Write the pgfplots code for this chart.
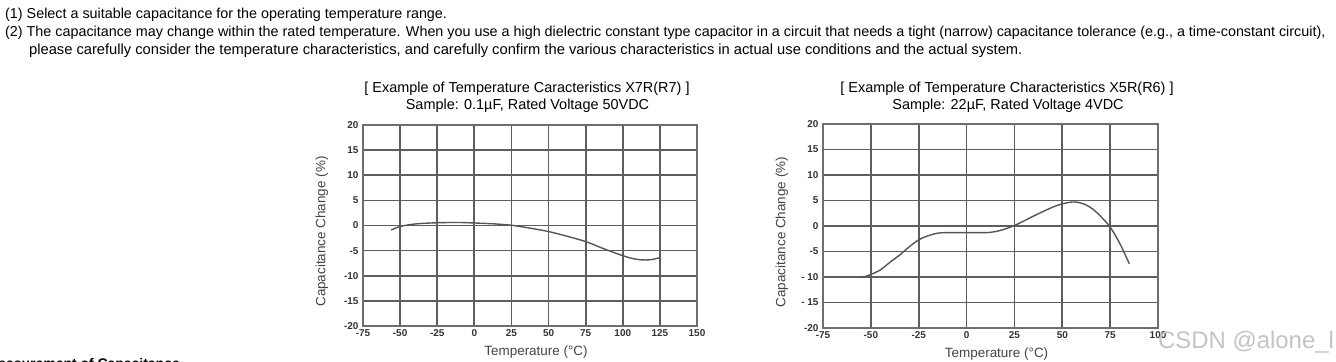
\documentclass[border=0pt]{standalone}
\usepackage{fontspec}
\setmainfont{Liberation Sans}
\usepackage{pgfplots}
\pgfplotsset{compat=1.18}
\definecolor{gridc}{HTML}{5E5E5E}
\definecolor{framec}{HTML}{6E6E6E}
\definecolor{curvec}{HTML}{555555}
\definecolor{tickc}{HTML}{333333}
\definecolor{labc}{HTML}{444444}
\definecolor{wm}{HTML}{C4C4C4}
\pgfplotsset{capstyle/.style={
  scale only axis,
  axis line style={framec, line width=1.8bp},
  grid=major, major grid style={gridc, line width=1.7bp},
  major tick length=0pt,
  ymin=-20, ymax=20, ytick={-20,-15,...,20},
  tick label style={font=\fontsize{10}{10}\selectfont\bfseries, text=tickc},
  xticklabel style={yshift=-0.5bp},
  yticklabel style={xshift=-1bp},
  xlabel={Temperature (°C)}, ylabel={Capacitance Change (\%)},
  every axis x label/.style={at={(axis description cs:0.518,-0.129)}, anchor=center, font=\fontsize{13.5}{15}\selectfont, text=labc},
  every axis y label/.style={at={(axis description cs:-0.123,0.47)}, anchor=center, rotate=90, font=\fontsize{13.5}{15}\selectfont, text=labc},
}}
\begin{document}
\begin{tikzpicture}[x=1bp,y=1bp]
\path[use as bounding box] (0,0) rectangle (1336,361);
% body text
\begin{scope}[every node/.style={anchor=base west, inner sep=0pt, font=\fontsize{14.4}{16}\selectfont}]
\node at (5,343) {(1) Select a suitable capacitance for the operating temperature range.};
\node at (5,325) {(2) The capacitance may change within the rated temperature. When you use a high dielectric constant type capacitor in a circuit that needs a tight (narrow) capacitance tolerance (e.g., a time-constant circuit),};
\node[font=\fontsize{14.75}{16}\selectfont] at (29,307) {please carefully consider the temperature characteristics, and carefully confirm the various characteristics in actual use conditions and the actual system.};
\end{scope}
\node[anchor=north east, inner sep=0pt, font=\fontsize{14}{16}\selectfont\bfseries] at (180,3) {Measurement of Capacitance};
% titles
\begin{scope}[every node/.style={anchor=base, inner sep=0pt, font=\fontsize{14.5}{16}\selectfont}]
\node at (527,269) {[ Example of Temperature Caracteristics X7R(R7) ]};
\node at (527.5,252) {Sample: 0.1µF, Rated Voltage 50VDC};
\node at (1007,269) {[ Example of Temperature Characteristics X5R(R6) ]};
\node at (1008,252) {Sample: 22µF, Rated Voltage 4VDC};
\end{scope}
% chart 1
\begin{axis}[capstyle, at={(363bp,35bp)}, anchor=south west, width=334bp, height=201bp,
  xmin=-75, xmax=150, xtick={-75,-50,...,150},
  xticklabels={-75,-50,-25,0,25,50,75,100,125,150},
  yticklabels={-20,-15,-10,-5,0,5,10,15,20}]
\addplot[curvec, line width=1.4bp, smooth, tension=0.5] coordinates {
(-56,-0.9) (-50,-0.2) (-40,0.3) (-25,0.55) (-10,0.6) (0,0.5) (12,0.35) (25,0.05)
(37,-0.5) (50,-1.2) (62,-2.1) (75,-3.2) (87,-4.6) (100,-6.0) (107,-6.6) (113,-6.85)
(119,-6.8) (125,-6.4)};
\end{axis}
% chart 2
\begin{axis}[capstyle, at={(823bp,33bp)}, anchor=south west, width=335bp, height=204bp,
  xmin=-75, xmax=100, xtick={-75,-50,...,100},
  xticklabels={-75,-50,-25,0,25,50,75,100},
  yticklabels={-20,- 15,- 10,-5,0,5,10,15,20}]
\addplot[curvec, line width=1.4bp, smooth, tension=0.5] coordinates {
(-56,-10.05) (-53,-9.9) (-50,-9.5) (-45,-8.6) (-40,-7.1) (-35,-5.7) (-30,-4.1) (-25,-2.7)
(-20,-1.9) (-15,-1.4) (-10,-1.3) (0,-1.3) (10,-1.3) (15,-1.1) (20,-0.6) (25,0.1)
(30,1.0) (35,1.95) (40,2.85) (45,3.7) (50,4.35) (55,4.7) (58,4.65) (62,4.2) (66,3.3)
(70,1.9) (75,-0.2) (80,-3.4) (85,-7.4)};
\end{axis}
% watermark
\node[anchor=base west, inner sep=0pt, font=\fontsize{24}{26}\selectfont, text=wm] at (1158,13) {CSDN @alone\_l};
\end{tikzpicture}
\end{document}
